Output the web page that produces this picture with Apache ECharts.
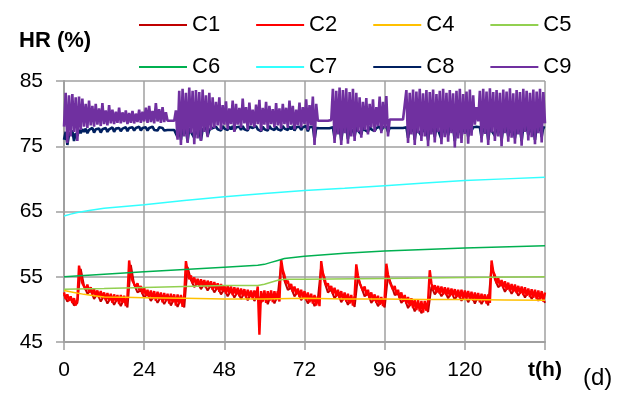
<!DOCTYPE html>
<html><head><meta charset="utf-8">
<script src="https://cdn.jsdelivr.net/npm/echarts@6/dist/echarts.min.js"></script>
<style>html,body{margin:0;padding:0;background:#fff}#c{width:627px;height:399px}</style>
</head><body><div id="c"></div>
<script>
// ---- data (hours / HR %) ----
const xTicks = [0, 24, 48, 72, 96, 120, 144];
const yTicks = [45, 55, 65, 75, 85];
const STEP_FAST = 0.5;   // sample step (h) of C2, C8, C9
const STEP_C1 = 1;       // sample step (h) of C1

const C1 = [
52.3,51.2,51.8,50.6,51.0,56.2,53.6,52.4,52.9,51.6,
52.4,51.2,52.1,50.9,51.8,50.7,51.7,50.5,51.6,50.3,
56.8,53.8,52.6,52.9,51.8,52.4,51.3,52.1,51.0,51.9,
50.8,51.8,50.6,51.7,50.4,51.6,50.3,56.5,54.5,53.4,
54.1,53.1,53.9,52.9,53.7,52.6,53.4,52.3,53.1,52.0,
52.9,51.8,52.7,51.6,52.5,51.4,52.4,51.3,52.2,51.0,
52.4,50.8,52.3,50.9,52.2,56.9,54.4,53.0,53.3,52.0,
52.7,51.4,52.2,50.9,51.9,50.5,51.6,56.6,54.2,52.6,
53.0,51.7,52.4,51.1,52.0,50.7,51.7,50.4,55.0,53.4,
52.0,52.4,51.0,51.7,50.5,51.3,50.3,55.2,53.8,52.2,
52.4,51.0,51.6,50.2,51.1,49.7,50.9,49.4,50.8,49.6,
53.5,52.3,53.0,52.0,52.8,51.7,52.6,51.5,52.4,51.3,
52.3,51.1,52.1,50.9,52.0,50.8,51.8,50.6,56.8,54.6,
53.4,53.9,52.7,53.5,52.4,53.2,52.1,52.9,51.8,52.7,
51.6,52.5,51.3,52.3,51.0];

const C2 = [
52.6,51.6,52.3,51.3,52.0,51.0,51.7,50.6,51.5,56.7,
55.2,54.0,54.3,53.0,53.8,52.6,53.4,52.3,53.1,52.0,
52.9,51.8,52.8,51.7,52.6,51.4,52.5,51.3,52.4,51.0,
52.3,51.2,52.2,50.8,52.2,51.0,52.1,50.5,52.0,57.5,
55.5,54.4,54.6,53.4,54.0,52.9,53.6,52.4,53.3,52.1,
53.0,51.8,52.9,51.6,52.8,51.3,52.7,51.5,52.6,51.1,
52.5,51.3,52.4,50.9,52.4,51.1,52.3,50.6,52.3,50.9,
52.2,50.4,52.2,57.4,55.8,54.6,55.2,54.0,54.9,53.8,
54.7,53.5,54.6,53.6,54.5,53.3,54.4,53.4,54.3,53.0,
54.2,53.1,54.0,52.7,53.9,52.8,53.7,52.4,53.6,52.5,
53.5,52.2,53.4,52.3,53.3,52.0,53.2,52.1,53.1,51.8,
53.0,51.9,52.9,51.6,52.9,51.8,53.5,46.1,52.8,51.2,
52.9,51.0,52.8,51.3,52.9,51.1,52.8,51.4,52.8,51.2,
57.7,56.0,55.2,54.0,54.4,53.3,53.9,52.7,53.5,52.3,
53.2,51.9,53.0,51.7,52.8,51.4,52.6,51.1,52.4,50.9,
52.2,50.6,52.0,50.5,57.4,55.6,54.8,53.6,54.0,52.9,
53.6,52.4,53.3,52.0,53.0,51.8,52.8,51.4,52.6,51.2,
52.4,50.9,52.2,50.6,52.1,56.9,55.2,54.0,54.2,52.9,
53.5,52.2,53.0,51.7,52.6,51.3,52.3,51.0,52.1,50.7,
51.9,50.5,51.8,57.0,55.3,54.2,54.4,53.0,53.6,52.3,
53.0,51.7,52.6,51.2,52.2,50.9,51.9,50.5,51.7,50.2,
51.5,49.9,51.4,49.7,51.3,49.5,51.3,49.8,51.4,56.0,
54.0,53.0,53.7,52.6,53.6,52.4,53.5,52.3,53.4,52.2,
53.3,52.0,53.2,52.1,53.1,51.9,53.0,51.8,53.0,51.6,
52.9,51.7,52.8,51.5,52.7,51.3,52.6,51.4,52.5,51.1,
52.4,51.2,52.3,50.9,52.3,51.0,57.5,55.8,55.2,54.0,
54.8,53.6,54.5,53.3,54.3,53.0,54.1,52.8,53.9,52.7,
53.8,52.5,53.6,52.4,53.5,52.2,53.4,52.1,53.2,51.9,
53.1,51.8,53.0,51.6,52.9,51.5,52.8,51.2,52.6];

const C4_t = [0, 3, 6, 9, 12, 18, 24, 36, 48, 60, 72, 84, 96, 108, 120, 132, 144];
const C4   = [52.9, 52.6, 52.3, 52.1, 51.9, 51.85, 51.8, 51.7, 51.6, 51.6, 51.7, 51.6, 51.6, 51.5, 51.5, 51.45, 51.4];

const C5_t = [0, 12, 24, 36, 48, 58, 60, 62, 64, 66, 72, 96, 120, 144];
const C5   = [53.1, 53.2, 53.35, 53.5, 53.65, 53.65, 53.85, 54.15, 54.45, 54.6, 54.6, 54.75, 54.9, 55.0];

const C6_t = [0, 24, 48, 58, 60, 62, 64, 66, 72, 84, 96, 120, 144];
const C6   = [55.0, 55.75, 56.45, 56.75, 56.9, 57.2, 57.5, 57.8, 58.15, 58.6, 58.95, 59.4, 59.75];

const C7_t = [0, 2, 4, 8, 12, 24, 36, 48, 60, 72, 84, 96, 108, 120, 132, 144];
const C7   = [64.3, 64.6, 64.85, 65.2, 65.5, 66.05, 66.7, 67.25, 67.75, 68.2, 68.55, 68.95, 69.35, 69.75, 70.0, 70.25];

const C8 = [
76.0,77.2,75.2,76.8,76.5,77.4,75.8,77.0,76.6,77.5,
77.0,77.6,77.2,77.7,77.0,77.5,77.3,77.8,77.1,77.6,
77.3,77.7,77.1,77.6,77.4,77.8,77.2,77.6,77.4,77.9,
77.2,77.7,77.5,77.8,77.3,77.7,77.5,77.9,77.3,77.8,
77.5,77.9,77.4,77.8,77.6,78.0,77.4,77.8,77.6,77.9,
77.4,77.8,77.6,78.0,77.5,77.8,77.4,77.9,77.6,77.8,
77.4,77.7,77.5,77.5,77.5,77.5,77.5,77.6,76.4,77.8,
76.0,77.9,77.0,77.6,75.7,77.8,77.2,77.5,76.3,77.9,
76.8,77.7,75.9,77.6,77.3,77.9,76.6,77.5,77.4,77.8,
77.5,78.0,77.6,77.9,77.4,78.1,77.7,77.8,77.5,78.0,
77.6,78.1,77.4,77.9,77.7,78.0,77.5,78.1,77.6,77.9,
77.4,78.0,77.7,77.8,77.5,78.1,77.6,77.9,77.3,78.0,
77.6,77.9,77.4,78.1,77.7,77.8,77.5,78.0,77.6,77.9,
77.4,78.1,77.7,77.8,77.5,78.0,77.6,78.1,77.4,77.9,
77.7,78.0,77.5,77.9,77.6,78.1,77.3,77.9,77.6,78.0,
76.0,77.8,77.75,77.75,77.75,77.75,77.75,77.75,77.75,77.75,
77.7,77.9,76.2,77.8,77.3,78.0,75.9,77.7,77.4,77.9,
76.1,77.8,77.2,77.6,76.5,77.9,77.4,77.7,76.8,77.9,
77.5,77.8,77.2,78.0,77.6,77.9,77.3,77.8,77.6,78.0,
77.4,77.9,77.6,78.0,77.2,77.8,77.8,77.8,77.8,77.8,
77.8,77.8,77.8,77.8,77.8,77.9,76.3,77.8,77.3,78.0,
76.0,77.9,77.4,77.7,76.6,78.0,77.2,77.8,75.9,77.9,
77.3,77.8,76.4,78.0,77.5,77.7,76.1,77.9,77.2,77.8,
76.7,78.0,77.4,77.8,75.8,77.9,77.1,78.1,76.4,77.8,
77.3,78.0,76.5,77.8,77.4,77.9,77.6,78.0,77.7,77.9,
76.3,77.8,77.3,78.0,76.0,77.9,77.4,77.7,76.6,78.0,
77.2,77.8,75.9,77.9,77.4,78.0,76.5,77.8,77.1,77.9,
76.2,78.0,77.3,77.8,75.8,77.9,77.5,78.1,76.7,77.8,
77.2,78.0,76.0,77.9,77.4,78.1,76.4,77.9,77.8];

const C9 = [
78.0,83.2,75.5,82.8,76.5,83.0,77.2,82.5,75.8,82.6,
77.5,82.3,78.0,81.5,77.8,82.0,78.2,81.2,78.0,81.5,
78.3,80.8,78.1,81.6,78.4,80.5,78.2,81.3,78.5,80.6,
78.4,80.3,78.6,80.9,78.5,80.2,78.7,80.5,78.4,80.1,
78.6,80.4,78.5,80.0,78.7,80.6,78.6,80.3,78.8,80.9,
78.6,81.2,78.7,80.4,78.5,81.6,78.8,80.7,78.6,81.0,
78.7,80.2,78.9,78.9,78.9,78.9,78.9,80.5,76.0,83.5,
75.2,83.8,76.5,83.2,75.5,84.0,77.0,83.5,75.3,83.6,
76.2,83.3,75.8,83.7,77.2,82.8,76.4,83.2,77.5,82.5,
77.8,81.8,78.2,82.5,77.5,81.3,78.3,81.9,77.6,80.8,
78.4,82.0,77.2,81.5,78.3,80.9,77.8,82.3,78.5,81.0,
77.5,81.7,78.2,80.6,77.9,81.4,78.4,82.1,77.3,80.9,
78.3,81.8,77.6,81.2,78.4,80.7,77.9,81.6,78.2,80.8,
77.7,81.5,78.4,80.9,77.8,82.0,78.3,81.2,77.6,80.6,
78.2,81.7,77.9,81.0,78.4,82.2,77.5,81.3,78.2,82.6,
75.2,81.5,78.9,78.9,78.9,78.9,78.9,78.9,78.9,78.9,
79.0,83.8,75.5,83.5,76.8,84.0,75.2,83.6,77.0,83.9,
75.4,83.3,76.5,83.8,75.8,83.2,77.2,82.5,76.3,81.8,
77.5,82.4,76.8,81.5,77.9,82.2,77.2,81.0,78.1,82.6,
77.0,81.8,77.8,82.7,76.5,79.1,79.1,79.1,79.1,79.1,
79.1,79.1,79.1,79.1,79.1,83.6,75.5,83.2,76.8,83.7,
75.2,83.4,77.0,83.8,75.8,83.1,76.5,83.6,75.0,83.3,
76.8,83.7,75.6,83.0,77.2,83.5,75.3,83.8,76.4,83.2,
75.7,83.6,77.0,83.1,74.8,83.5,76.2,83.8,75.5,83.0,
76.9,83.4,75.4,83.7,76.6,82.8,78.3,81.0,78.8,83.5,
75.6,83.8,76.9,83.4,75.2,83.9,77.1,83.3,75.8,83.6,
76.5,83.2,75.0,83.7,77.0,83.4,75.7,83.9,76.3,83.1,
75.4,83.6,76.8,83.3,75.1,83.8,77.2,83.5,75.9,83.2,
76.4,83.7,75.3,83.4,77.0,83.8,75.6,83.3,78.5];

// ---- build ----
const FONT = '"Liberation Sans", Arial, sans-serif';
const stepped = (arr, step) => arr.map((v, i) => [i * step, v]);
const paired = (ts, vs) => ts.map((t, i) => [t, vs[i]]);

const seriesDefs = [
  {name: 'C1', data: stepped(C1, STEP_C1), color: '#c00000', w: 2},
  {name: 'C2', data: stepped(C2, STEP_FAST), color: '#ff0000', w: 2.4},
  {name: 'C4', data: paired(C4_t, C4), color: '#ffc000', w: 1.5},
  {name: 'C5', data: paired(C5_t, C5), color: '#92d050', w: 1.5},
  {name: 'C6', data: paired(C6_t, C6), color: '#00b050', w: 1.5},
  {name: 'C7', data: paired(C7_t, C7), color: '#33ffff', w: 1.5},
  {name: 'C8', data: stepped(C8, STEP_FAST), color: '#002060', w: 2.6},
  {name: 'C9', data: stepped(C9, STEP_FAST), color: '#7030a0', w: 2.6}
];

const legendCommon = {
  left: 134, itemWidth: 48, itemHeight: 2, itemGap: 36, icon: 'rect',
  textStyle: {fontSize: 22, color: '#000', fontFamily: FONT, padding: [0, 0, 0, 0]}
};

const chart = echarts.init(document.getElementById('c'), null, {renderer: 'canvas'});
chart.setOption({
  animation: false,
  backgroundColor: '#fff',
  textStyle: {fontFamily: FONT},
  grid: {left: 64, right: 82, top: 81, bottom: 57, containLabel: false},
  legend: [
    Object.assign({top: 9, data: ['C1', 'C2', 'C4', 'C5']}, legendCommon),
    Object.assign({top: 51, data: ['C6', 'C7', 'C8', 'C9']}, legendCommon)
  ],
  xAxis: {
    type: 'value', min: xTicks[0], max: xTicks[xTicks.length - 1], interval: 24,
    axisLine: {lineStyle: {color: '#a0a0a0', width: 2}},
    axisTick: {show: true, length: 8, lineStyle: {color: '#a0a0a0', width: 1.5}},
    splitLine: {show: true, lineStyle: {color: '#a0a0a0', width: 1.5}},
    axisLabel: {
      margin: 18, fontSize: 21, color: '#000', fontFamily: FONT,
      formatter: v => v === xTicks[xTicks.length - 1] ? '{b|t(h)}' : String(v),
      rich: {b: {fontWeight: 'bold', fontSize: 21, color: '#000', fontFamily: FONT}}
    }
  },
  yAxis: {
    type: 'value', min: yTicks[0], max: yTicks[yTicks.length - 1], interval: 10,
    axisLine: {show: true, lineStyle: {color: '#a0a0a0', width: 2}},
    axisTick: {show: true, length: 8, lineStyle: {color: '#a0a0a0', width: 1.5}},
    splitLine: {show: true, lineStyle: {color: '#a0a0a0', width: 1.5}},
    axisLabel: {margin: 21, fontSize: 21, color: '#000', fontFamily: FONT}
  },
  graphic: [
    {type: 'text', left: 19, top: 30, style: {text: 'HR (%)', fontSize: 22, fontWeight: 'bold', fill: '#000', fontFamily: FONT}},
    {type: 'text', left: 583, top: 366, style: {text: '(d)', fontSize: 24, fill: '#000', fontFamily: FONT}}
  ],
  series: seriesDefs.map(s => ({
    name: s.name, type: 'line', data: s.data, symbol: 'none', showSymbol: false,
    sampling: null, smooth: false, color: s.color,
    lineStyle: {color: s.color, width: s.w, join: 'bevel'},
    emphasis: {disabled: true}
  }))
});
</script>
</body></html>
